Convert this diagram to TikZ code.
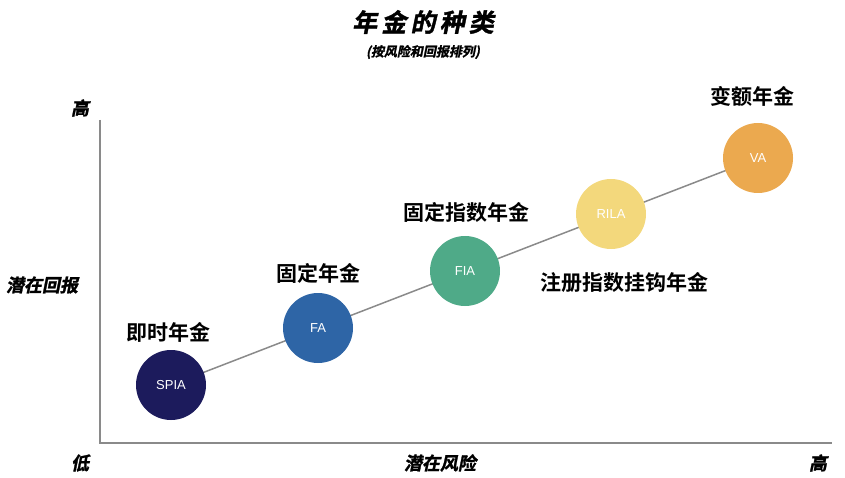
\documentclass[tikz,border=0pt]{standalone}
\usepackage{fontspec}
\newfontfamily\cjk{Noto Sans CJK SC}[BoldFont={Noto Sans CJK SC Bold}]
\newfontfamily\cjkit{Noto Sans CJK SC Bold}[FakeSlant=0.2,FakeBold=1.5]
\setsansfont{Liberation Sans}
\definecolor{cspia}{HTML}{1C1B5C}
\definecolor{cfa}{HTML}{2E65A6}
\definecolor{cfia}{HTML}{4FAA88}
\definecolor{crila}{HTML}{F3D87C}
\definecolor{cva}{HTML}{EBA94F}
\definecolor{axisg}{HTML}{8A8A8A}
\tikzset{
 ball/.style={circle,minimum size=70pt,inner sep=0pt,text=white,font=\sffamily\fontsize{13}{15}\selectfont},
 lab/.style={font=\cjk\bfseries\fontsize{21}{24}\selectfont},
 axlab/.style={font=\cjkit\fontsize{18}{22}\selectfont}
}
\begin{document}
\begin{tikzpicture}[x=1pt,y=-1pt]
\useasboundingbox (0,0) rectangle (845,478);
\node[font=\cjkit\fontsize{25}{28}\selectfont] (title) at (423,22) {年\,金\,的\,种\,类};
\node[font=\cjkit\fontsize{13}{15}\selectfont] (sub) at (423,52) {(按风险和回报排列)};
\coordinate (o) at (100,443);
\coordinate (yt) at (100,120);
\coordinate (xr) at (832,443);
\draw[axisg,line width=1.5pt] (yt) -- (o) -- (xr);
\node[axlab] (hi1) at (80,108) {高};
\node[axlab] (ret) at (42,285) {潜在回报};
\node[axlab] (lo) at (80,463) {低};
\node[axlab] (risk) at (440,463) {潜在风险};
\node[axlab] (hi2) at (818,463) {高};
\coordinate (c1) at (171,385);
\coordinate (c5) at (758,158);
\draw[axisg,line width=1.5pt] (c1) -- (c5);
\node[ball,fill=cspia] (spia) at (c1) {SPIA};
\node[ball,fill=cfa] (fa) at (318,328) {FA};
\node[ball,fill=cfia] (fia) at (465,271) {FIA};
\node[ball,fill=crila] (rila) at (611,214) {RILA};
\node[ball,fill=cva] (va) at (c5) {VA};
\node[lab] at (168,332) {即时年金};
\node[lab] at (318,273) {固定年金};
\node[lab] at (466,212) {固定指数年金};
\node[lab] at (624,282) {注册指数挂钩年金};
\node[lab] at (752,96) {变额年金};
\end{tikzpicture}
\end{document}
